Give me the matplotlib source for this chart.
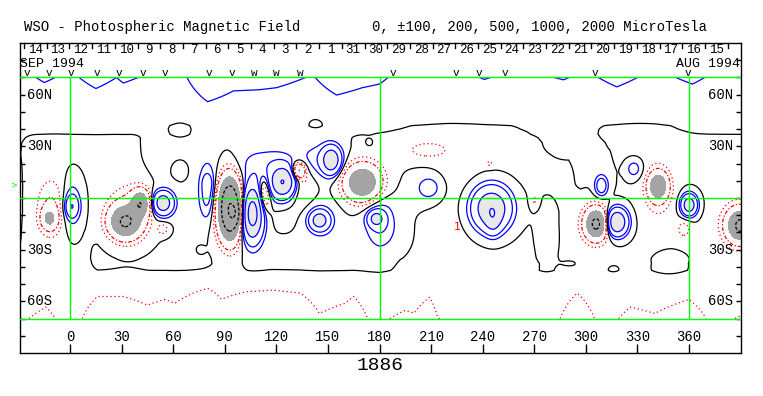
import numpy as np
import matplotlib
matplotlib.use("Agg")
import matplotlib.pyplot as plt

W, H, DPI = 763, 396, 100

# ---------------- text / labels ----------------
rotation_label = "1886"
title_left = "WSO - Photospheric Magnetic Field"
title_right = "0, \u00b1100, 200, 500, 1000, 2000 MicroTesla"
month_left = "SEP 1994"
month_right = "AUG 1994"
day_labels = ["14", "13", "12", "11", "10", "9", "8", "7", "6", "5", "4", "3", "2", "1",
              "31", "30", "29", "28", "27", "26", "25", "24", "23", "22", "21", "20",
              "19", "18", "17", "16", "15"]
lon_ticks = [0, 30, 60, 90, 120, 150, 180, 210, 240, 270, 300, 330, 360]
lat_tick_labels = ["60N", "30N", "30S", "60S"]
lat_tick_values = [60, 30, -30, -60]

# observation marks (Carrington longitude, marker glyph)
obs_lon = [-25, -12, 0.6, 15.7, 28.5, 42.5, 55.3, 80.8, 94.2, 107, 119.8, 133.8,
           187.9, 224.5, 237.9, 253, 305.3, 359.4]
obs_mark = ["v", "v", "v", "v", "v", "v", "v", "v", "v", "w", "w", "w",
            "v", "v", "v", "v", "v", "v"]

# ---------------- field data (microTesla) ----------------
# polar field strength at 70 deg vs longitude
north_lon = [-30, -25, -15, 0, 15, 27, 31, 50, 68, 80, 95, 110, 120, 137, 141, 155, 170,
             180, 190, 220, 241, 260, 287, 300, 318, 340, 362, 375, 390]
north_amp = [100, 90, 109, 88, 122, 100, 110, 88, 100, 165, 128, 125, 120, 100, 95, 140, 120,
             112, 88, 80, 104, 85, 104, 88, 118, 85, 112, 90, 90]
south_lon = [-30, -24, -14, -5, 7, 16, 31, 45, 55, 61, 80, 88, 103, 118, 134, 145, 160, 165,
             173, 180, 186, 195, 200, 209, 214, 250, 285, 295, 305, 312, 319, 326, 340, 360,
             370, 380, 390]
south_amp = [100, 100, 123, 85, 100, 156, 156, 128, 145, 133, 200, 145, 178, 188, 170, 109,
             133, 156, 100, 90, 100, 115, 109, 150, 100, 80, 100, 170, 100, 90, 100, 123,
             109, 145, 100, 90, 105]
shape_lat = [0, 35, 42, 46, 50, 55, 60, 65, 70]
shape_val = [0, 0, 0.04, 0.2, 0.42, 0.58, 0.72, 0.86, 1.0]

# weak low-latitude background: northern and southern belts vs longitude
nmid_lon = [-30, 36, 48, 150, 163, 290, 297, 314, 321, 390]
nmid_amp = [-10, -10, 15, 15, -10, -10, 12, 12, -10, -10]
nmid_lat = [-8, 0, 10, 25, 32, 37, 40]
nmid_shape = [0, 0.35, 0.9, 1, 0.7, 0.1, 0]
smid_lon = [-30, 8, 16, 180, 192, 390]
smid_amp = [-10, -10, 12, 12, -10, -10]
smid_lat = [-8, 0, 15, 30, 38, 43, 48]
smid_shape = [0, 0.35, 0.8, 1, 1, 0.4, 0]

# sources: longitude, latitude, peak, width lon, width lat
src_lon = [-12, -11, 32, 41, 34, 93, 92, 96, 113, 133, 133, 170, 208, 244, 270,
           306, 305, 342, 342, 357, 390, 388, 54,
           1, 1, 54, 80, 80, 106, 124, 115, 152, 145, 145, 146, 178, 180, 209, 245, 246,
           309, 328, 318, 360,
           228, -34, 64, 64, 143, 174, 76, 124, 190, 203, 243, 292, 316, 349, 277,
           290, 328]
src_lat = [-12, -6, -14, -3, -9, -6, -6, -9, 2, 16, 10, 9, 28, 20, -1,
           -15, -15, 7, 4, -18, -16, -15, -18,
           -5, -4, -3, 3, 9, -9, 9, 18, 22, 22, -13, -13, -12, -14, 6, -6, -14,
           7, 17, -14, -4,
           0, 0, 41, 16, 44, 31, -30, -12, -20, 5, -6, -38, -41, -38, -22,
           30, 32]
src_amp = [-450, -220, -900, -800, -250, -1800, -200, -600, -400, -550, -220, -900, -140, -110, -115,
           -1000, -150, -800, -180, -140, -1000, -150, -160,
           350, 200, 800, 300, 100, 1300, 1000, 150, 800, 140, 650, 150, 550, 200, 160, 900, 300,
           350, 170, 1000, 800,
           -35, 25, -12, -25, -25, 15, -25, -30, 40, 45, 50, 15, 15, 30, 25,
           20, -25]
src_wlon = [3, 6, 6, 3.5, 9, 4, 7, 2, 2.5, 2.5, 6, 7, 9, 1.5, 1.5,
            4, 7, 3.5, 6, 3, 5, 8, 2.5,
            2.5, 4, 4, 3.5, 2, 4, 5, 14, 3.5, 10, 3.5, 6, 3, 6, 5, 7, 3,
            2.5, 3.5, 4, 3,
            22, 5, 4, 5, 3, 2.5, 2, 6, 8, 10, 12, 5, 3.5, 8, 6,
            12, 14]
src_wlat = [4, 12, 6, 5, 11, 11, 15, 4, 7, 3, 9, 7, 3.5, 1.5, 3,
            5.5, 9, 5, 11, 4, 6, 10, 2.5,
            4, 10, 4.5, 11, 3, 10, 6, 8, 5, 7, 3.5, 7, 3, 10, 5, 8, 5,
            4, 4, 5, 4,
            25, 30, 4, 6, 2, 2.5, 2, 6, 10, 10, 13, 2, 2.5, 6, 17,
            7, 8]

# ---------------- build field on grid ----------------
lon = np.arange(-30, 391, 0.5)
lat = np.arange(-70, 70.01, 0.5)
LON, LAT = np.meshgrid(lon, lat)
gN = np.interp(LAT, shape_lat, shape_val)
gS = np.interp(-LAT, shape_lat, shape_val)
F = (np.interp(LON, north_lon, north_amp) * gN * (LAT > 0)
     - np.interp(LON, south_lon, south_amp) * gS * (LAT < 0))
F += np.interp(LON, nmid_lon, nmid_amp) * np.interp(LAT, nmid_lat, nmid_shape)
F += np.interp(LON, smid_lon, smid_amp) * np.interp(-LAT, smid_lat, smid_shape)
for a, b, p, sa, sb in zip(src_lon, src_lat, src_amp, src_wlon, src_wlat):
    F += p * np.exp(-0.5 * (((LON - a) / sa) ** 2 + ((LAT - b) / sb) ** 2))

# ---------------- figure ----------------
fig = plt.figure(figsize=(W / DPI, H / DPI), dpi=DPI)
ax = fig.add_axes([20 / W, 1 - 353 / H, 721 / W, 310 / H])
ax.set_xlim(-29.1, 390.2)
ax.set_ylim(-90, 90)

BLUE, RED, GREEN = "#0000ff", "#ff0000", "#00ff00"
LW = 0.9
ax.contourf(LON, LAT, F, levels=[500, 1e6], colors=["#e8e8e8"], zorder=1)
ax.contourf(LON, LAT, F, levels=[-1e6, -500], colors=["#a4a4a4"], zorder=1)
ax.contour(LON, LAT, F, levels=[100, 200, 500, 1000, 2000], colors=BLUE, linewidths=LW, zorder=3)
c1 = ax.contour(LON, LAT, F, levels=[-100], colors=RED, linewidths=LW, zorder=3)
c1.set_linestyle((0, (1, 2.2)))
c2 = ax.contour(LON, LAT, F, levels=[-200], colors=RED, linewidths=LW, zorder=3)
c2.set_linestyle((0, (3, 1.5, 1, 1.5)))
c3 = ax.contour(LON, LAT, F, levels=[-2000, -1000], colors="black", linewidths=LW, zorder=3)
c3.set_linestyle((0, (2.5, 1.5)))
ax.contour(LON, LAT, F, levels=[0], colors="black", linewidths=LW, zorder=3)

# green reference lines
for x0 in (0, 180, 360):
    ax.plot([x0, x0], [-70, 70], color=GREEN, lw=1.0, zorder=4)
for y0 in (-70, 0, 70):
    ax.axhline(y0, color=GREEN, lw=1.0, zorder=4)

# frame / ticks
for s in ax.spines.values():
    s.set_linewidth(1.0)
ax.set_xticks(lon_ticks)
ax.set_xticklabels([])
ax.set_yticks(range(-80, 81, 10))
ax.set_yticklabels([])
ax.tick_params(axis="x", direction="in", length=6.5, width=1.0, top=False)
ax.tick_params(axis="y", direction="in", length=3.6, width=1.0, left=True, right=True)

MONO = "Liberation Mono"
for v in lon_ticks:
    ax.text(v, -80.7, str(v), ha="center", va="center", fontsize=10, family=MONO)
for v, t in zip(lat_tick_values, lat_tick_labels):
    ax.text(-24.8, v, t, ha="left", va="center", fontsize=10, family=MONO)
    ax.text(385.5, v, t, ha="right", va="center", fontsize=10, family=MONO)

# day strip
day0, dstep = -26.75, 13.2
for k in range(len(day_labels) + 1):
    x0 = day0 + dstep * k
    ax.plot([x0, x0], [90, 87.2], color="black", lw=1.0, zorder=5, clip_on=False)
for k, t in enumerate(day_labels):
    ax.text(day0 + dstep * (k + 0.5), 86.2, t, ha="center", va="center",
            fontsize=9, family=MONO)
ax.text(-28.9, 77.9, month_left, ha="left", va="center", fontsize=9.5, family=MONO)
ax.text(389.5, 77.9, month_right, ha="right", va="center", fontsize=9.5, family=MONO)
for x0, m in zip(obs_lon, obs_mark):
    ax.text(x0, 70.6, m, ha="center", va="baseline", fontsize=8, family=MONO)

ax.text(225, -16.7, "1", color=RED, ha="center", va="center", fontsize=8, family="DejaVu Sans")
ax.text(-30.5, 7.5, ">", color=GREEN, ha="right", va="center", fontsize=6, clip_on=False)

fig.text(24 / W, 1 - 27 / H, title_left, ha="left", va="center", fontsize=10, family=MONO)
fig.text(372 / W, 1 - 27 / H, title_right, ha="left", va="center", fontsize=10, family=MONO)
fig.text(380 / W, 1 - 366 / H, rotation_label, ha="center", va="center", fontsize=14, family=MONO)

fig.savefig("out.png", dpi=DPI)
